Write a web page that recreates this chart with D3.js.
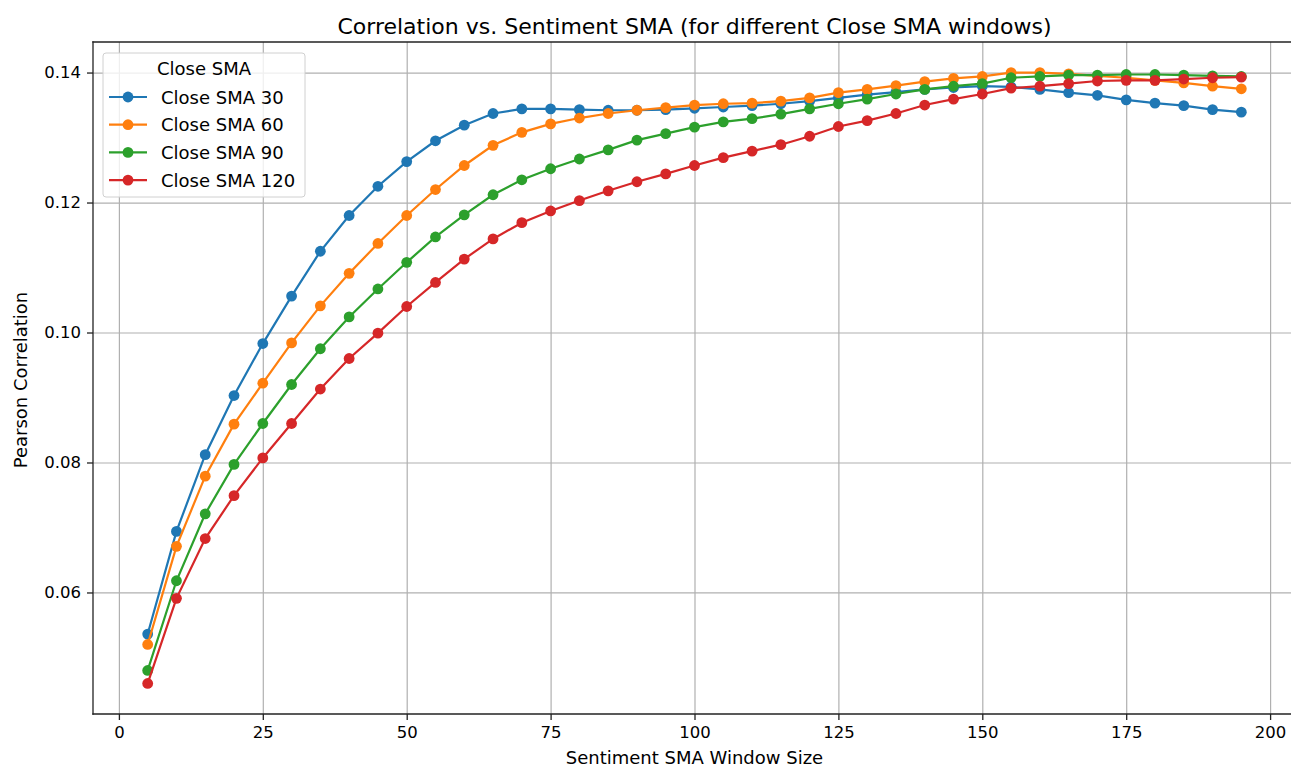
<!DOCTYPE html>
<html>
<head>
<meta charset="utf-8">
<script src="https://d3js.org/d3.v7.min.js"></script>
<style>
  html, body { margin: 0; padding: 0; background: #fff; overflow: hidden; }
  svg { display: block; }
  text { font-family: "DejaVu Sans", sans-serif; fill: #000; }
</style>
</head>
<body>
<div id="chart-container"></div>
<script>
// Sentiment SMA window sizes (x values)
const windows = [5, 10, 15, 20, 25, 30, 35, 40, 45, 50, 55, 60, 65, 70, 75, 80, 85, 90, 95, 100,
  105, 110, 115, 120, 125, 130, 135, 140, 145, 150, 155, 160, 165, 170, 175, 180, 185, 190, 195];

// Pearson correlation for each Close SMA window
const sma30 = [0.0536, 0.0694, 0.0812, 0.0903, 0.0983, 0.1056, 0.1125, 0.1180, 0.1225, 0.1263,
  0.1295, 0.1319, 0.1337, 0.1344, 0.1344, 0.1343, 0.1342, 0.1342, 0.1343, 0.1345,
  0.1347, 0.1349, 0.1352, 0.1356, 0.1361, 0.1366, 0.1370, 0.1374, 0.1377, 0.1379,
  0.1378, 0.1374, 0.1369, 0.1365, 0.1358, 0.1353, 0.1349, 0.1343, 0.1339];
const sma60 = [0.0520, 0.0671, 0.0779, 0.0859, 0.0922, 0.0984, 0.1041, 0.1091, 0.1137, 0.1180,
  0.1220, 0.1257, 0.1288, 0.1308, 0.1321, 0.1330, 0.1337, 0.1342, 0.1346, 0.1350,
  0.1352, 0.1353, 0.1356, 0.1361, 0.1369, 0.1374, 0.1380, 0.1386, 0.1391, 0.1394,
  0.1400, 0.1400, 0.1398, 0.1395, 0.1392, 0.1388, 0.1384, 0.1379, 0.1375];
const sma90 = [0.0480, 0.0618, 0.0721, 0.0797, 0.0860, 0.0920, 0.0975, 0.1024, 0.1067, 0.1108,
  0.1147, 0.1181, 0.1212, 0.1235, 0.1252, 0.1267, 0.1281, 0.1296, 0.1306, 0.1316,
  0.1324, 0.1329, 0.1336, 0.1344, 0.1352, 0.1359, 0.1367, 0.1374, 0.1379, 0.1383,
  0.1392, 0.1394, 0.1396, 0.1396, 0.1397, 0.1397, 0.1396, 0.1395, 0.1394];
const sma120 = [0.0460, 0.0591, 0.0683, 0.0749, 0.0807, 0.0860, 0.0913, 0.0960, 0.0999, 0.1040,
  0.1077, 0.1113, 0.1144, 0.1169, 0.1187, 0.1203, 0.1218, 0.1232, 0.1244, 0.1257,
  0.1269, 0.1279, 0.1289, 0.1302, 0.1317, 0.1326, 0.1337, 0.1350, 0.1359, 0.1367,
  0.1376, 0.1379, 0.1383, 0.1387, 0.1388, 0.1388, 0.1390, 0.1392, 0.1393];

const seriesNames = ["Close SMA 30", "Close SMA 60", "Close SMA 90", "Close SMA 120"];
const seriesValues = [sma30, sma60, sma90, sma120];
const colors = ["#1f77b4", "#ff7f0e", "#2ca02c", "#d62728"];

// Tick values
const xTicks = [0, 25, 50, 75, 100, 125, 150, 175, 200];
const yTicks = [0.06, 0.08, 0.10, 0.12, 0.14];

// Figure and axes box (right edge runs just past the picture, as in the original)
const W = 1291, H = 767;
const box = { left: 93, top: 42, right: 1296, bottom: 714 };

const series = seriesNames.map((name, i) => ({
  name,
  color: colors[i],
  points: windows.map((w, j) => ({ x: w, y: seriesValues[i][j] }))
}));

// matplotlib style 5% margins around the data
const xExt = d3.extent(windows);
const yExt = d3.extent(seriesValues.flat());
const xPad = (xExt[1] - xExt[0]) * 0.05;
const yPad = (yExt[1] - yExt[0]) * 0.05;

const xScale = d3.scaleLinear()
  .domain([xExt[0] - xPad, xExt[1] + xPad])
  .range([box.left, box.right]);

const yScale = d3.scaleLinear()
  .domain([yExt[0] - yPad, yExt[1] + yPad])
  .range([box.bottom, box.top]);

const svg = d3.select("#chart-container")
  .append("svg")
  .attr("width", W)
  .attr("height", H);

// Grid lines
svg.append("g")
  .attr("transform", `translate(0,${box.bottom})`)
  .call(d3.axisBottom(xScale).tickValues(xTicks).tickSize(-(box.bottom - box.top)).tickFormat(""))
  .call(g => g.select(".domain").remove())
  .call(g => g.selectAll("line").attr("stroke", "#b0b0b0").attr("stroke-width", 1.2));

svg.append("g")
  .attr("transform", `translate(${box.left},0)`)
  .call(d3.axisLeft(yScale).tickValues(yTicks).tickSize(-(box.right - box.left)).tickFormat(""))
  .call(g => g.select(".domain").remove())
  .call(g => g.selectAll("line").attr("stroke", "#b0b0b0").attr("stroke-width", 1.2));

// Lines and markers
const line = d3.line().x(d => xScale(d.x)).y(d => yScale(d.y));

series.forEach(s => {
  const g = svg.append("g");
  g.append("path")
    .datum(s.points)
    .attr("fill", "none")
    .attr("stroke", s.color)
    .attr("stroke-width", 2.2)
    .attr("d", line);
  g.selectAll("circle")
    .data(s.points)
    .enter()
    .append("circle")
    .attr("cx", d => xScale(d.x))
    .attr("cy", d => yScale(d.y))
    .attr("r", 5.4)
    .attr("fill", s.color);
});

// Spines: left, top and bottom (the right one falls outside the picture)
const spines = [
  [box.left, box.top, box.left, box.bottom],
  [box.left, box.top, W, box.top],
  [box.left, box.bottom, W, box.bottom]
];
svg.append("g")
  .selectAll("line")
  .data(spines)
  .enter()
  .append("line")
  .attr("x1", d => d[0]).attr("y1", d => d[1])
  .attr("x2", d => d[2]).attr("y2", d => d[3])
  .attr("stroke", "#222")
  .attr("stroke-width", 1.3)
  .attr("stroke-linecap", "square");

// Axes
const xAxis = svg.append("g")
  .attr("transform", `translate(0,${box.bottom})`)
  .call(d3.axisBottom(xScale).tickValues(xTicks).tickSize(6).tickPadding(6).tickFormat(d3.format("d")));

const yAxis = svg.append("g")
  .attr("transform", `translate(${box.left},0)`)
  .call(d3.axisLeft(yScale).tickValues(yTicks).tickSize(6).tickPadding(6).tickFormat(d3.format(".2f")));

[xAxis, yAxis].forEach(ax => {
  ax.select(".domain").remove();
  ax.selectAll("line").attr("stroke", "#222").attr("stroke-width", 1.3);
  ax.selectAll("text").style("font-size", "16.5px").style("font-family", "DejaVu Sans").attr("fill", "#222");
});

// Title and axis labels
svg.append("text")
  .attr("x", (box.left + box.right) / 2)
  .attr("y", 34)
  .attr("text-anchor", "middle")
  .style("font-size", "22px")
  .text("Correlation vs. Sentiment SMA (for different Close SMA windows)");

svg.append("text")
  .attr("x", (box.left + box.right) / 2)
  .attr("y", 764)
  .attr("text-anchor", "middle")
  .style("font-size", "18px")
  .text("Sentiment SMA Window Size");

svg.append("text")
  .attr("transform", `translate(27,${(box.top + box.bottom) / 2 + 2}) rotate(-90)`)
  .attr("text-anchor", "middle")
  .style("font-size", "18px")
  .text("Pearson Correlation");

// Legend
const legend = svg.append("g").attr("transform", "translate(103,53)");

legend.append("rect")
  .attr("width", 202)
  .attr("height", 144)
  .attr("rx", 3)
  .attr("fill", "#fff")
  .attr("fill-opacity", 0.8)
  .attr("stroke", "#d0d0d0");

legend.append("text")
  .attr("x", 101)
  .attr("y", 22)
  .attr("text-anchor", "middle")
  .style("font-size", "18px")
  .text("Close SMA");

series.forEach((s, i) => {
  const ly = 44 + i * 27.7;
  legend.append("line")
    .attr("x1", 6).attr("x2", 44)
    .attr("y1", ly).attr("y2", ly)
    .attr("stroke", s.color)
    .attr("stroke-width", 2.2);
  legend.append("circle")
    .attr("cx", 25).attr("cy", ly)
    .attr("r", 5.4)
    .attr("fill", s.color);
  legend.append("text")
    .attr("x", 58)
    .attr("y", ly + 6.5)
    .style("font-size", "18px")
    .text(s.name);
});
</script>
</body>
</html>
